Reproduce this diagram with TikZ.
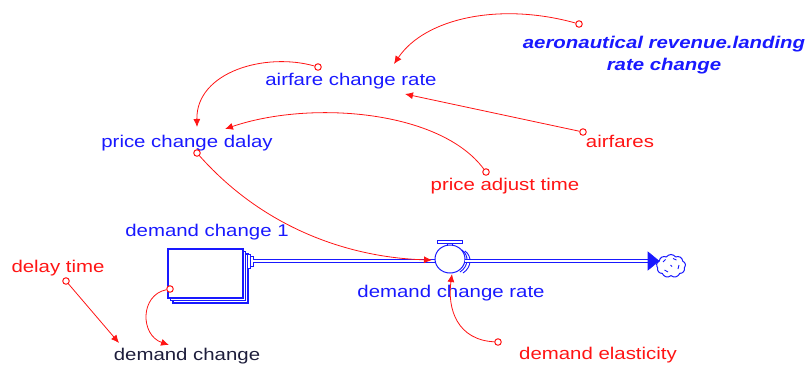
\documentclass[tikz,border=0pt]{standalone}
\usepackage{fontspec}
\setmainfont{Liberation Sans}[FakeStretch=1.2]
\usetikzlibrary{arrows.meta,shapes.symbols,shapes.geometric}
\definecolor{vblue}{RGB}{25,25,255}
\definecolor{vred}{RGB}{255,20,20}
\definecolor{vdark}{RGB}{30,30,60}
\tikzset{
  lbl/.style={font=\fontsize{17}{21}\selectfont, inner sep=0pt, anchor=base},
  bl/.style={lbl, text=vblue},
  rd/.style={lbl, text=vred},
  link/.style={draw=vred, line width=0.8pt, -{Latex[length=8pt,width=7pt]}},
  ring/.style={circle, draw=vred, line width=1pt, minimum size=6.5pt, inner sep=0pt, fill=white},
  pipe/.style={draw=vblue, line width=1pt, double=white, double distance=2.2pt},
  stockbox/.style={draw=vblue, line width=1.2pt, fill=white},
}
\begin{document}
\begin{tikzpicture}[x=1pt,y=-1pt]
\useasboundingbox (0,0) rectangle (806,365);

% labels
\node[bl, font=\fontsize{17}{22}\selectfont\bfseries\itshape, align=center, anchor=center] (aero) at (664,55) {aeronautical revenue.landing\\rate change};
\node[bl] (afr) at (351,85) {airfare change rate};
\node[bl] (pcd) at (187,147) {price change dalay};
\node[rd] (pat) at (505,190) {price adjust time};
\node[rd] (afs) at (620,147) {airfares};
\node[bl] (dc1) at (207,236) {demand change 1};
\node[bl] (dcr) at (451,297) {demand change rate};
\node[rd] (dlt) at (58,272) {delay time};
\node[lbl, text=vdark] (dch) at (187,360.5) {demand change};
\node[rd] (del) at (598,359) {demand elasticity};

% stock (arrayed)
\draw[stockbox] (173,254) rectangle (248,303);
\draw[stockbox] (170.5,251.5) rectangle (245.5,300.5);
\draw[stockbox] (168,249) rectangle (243,298);
\node[inner sep=0pt, minimum width=75pt, minimum height=49pt] (stock) at (205.5,273.5) {};

% pipe flange
\draw[draw=vblue, line width=0.9pt, fill=white] (247,254) rectangle (250,268);
\draw[draw=vblue, line width=0.9pt, fill=white] (250,256) rectangle (253,266);
\coordinate (pstart) at (253,261);

% valve
\coordinate (vl) at (435,261);
\coordinate (vr) at (465,261);
\draw[pipe] (pstart) -- (vl);
\draw[draw=vblue, line width=0.9pt] (462,250) .. controls (469,255) and (469,266) .. (460,272);
\draw[draw=vblue, line width=0.9pt] (465,251) .. controls (472,256) and (472,267) .. (463,273);
\node[ellipse, draw=vblue, line width=1pt, fill=white, minimum width=30pt, minimum height=28pt, inner sep=0pt] (valve) at (450,259) {};
\draw[draw=vblue, line width=0.9pt, fill=white] (437,240.5) rectangle (462,243.5);
\draw[draw=vblue, line width=0.9pt] (447.5,243.5) -- (447.5,246) (452.5,243.5) -- (452.5,246);

% cloud
\node[cloud, cloud puffs=9, cloud puff arc=110, draw=vblue, line width=1pt, fill=white, minimum width=29pt, minimum height=23pt, inner sep=0pt] (cloud) at (671,266) {};
\draw[vblue, line width=0.9pt] (663,262) -- (665.5,259.5) (673,258.5) -- (676.5,260) (679,265) -- (678,269) (668,272) -- (664.5,270) (670.5,265) -- (672,266.5);
\coordinate (pend) at (648,261);
\draw[pipe] (vr) -- (pend);
\draw[draw=vblue, fill=vblue, line width=0.6pt] (648,252) -- (659,261) -- (648,270) -- cycle;

% rings
\node[ring] (r1) at (579,24) {};
\node[ring] (r2) at (318,67) {};
\node[ring] (r3) at (197,153) {};
\node[ring] (r4) at (486,172) {};
\node[ring] (r5) at (583,132) {};
\node[ring] (r6) at (66,281) {};
\node[ring] (r7) at (170,289) {};
\node[ring] (r8) at (498,342) {};

% arrow targets
\coordinate (t1) at (394,64);
\coordinate (t2) at (197,127);
\coordinate (t3) at (432,260);
\coordinate (t4) at (225,129);
\coordinate (t5) at (405,94);
\coordinate (t6) at (119,343);
\coordinate (t7) at (169,345);
\coordinate (t8) at (452,274);

% links
\draw[link] (r1) .. controls (500,2) and (425,18) .. (t1);
\draw[link] (r2) .. controls (265,52) and (196,72) .. (t2);
\draw[link] (r3) .. controls (270,235) and (360,258) .. (t3);
\draw[link] (r4) .. controls (440,110) and (310,100) .. (t4);
\draw[link] (r5) -- (t5);
\draw[link] (r6) -- (t6);
\draw[link] (r7) .. controls (140,295) and (140,335) .. (t7);
\draw[link] (r8) .. controls (458,340) and (447,310) .. (t8);
\end{tikzpicture}
\end{document}
